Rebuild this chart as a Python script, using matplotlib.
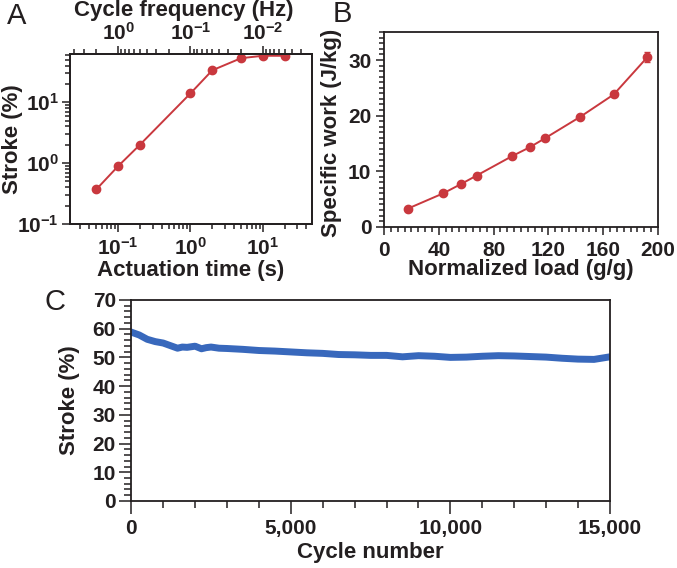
import matplotlib
matplotlib.use("Agg")
import matplotlib.pyplot as plt
from matplotlib.ticker import MultipleLocator, FuncFormatter, NullFormatter, FixedLocator

plt.rcParams['font.family'] = ['Liberation Sans']
plt.rcParams['font.weight'] = 'bold'
plt.rcParams['mathtext.fontset'] = 'custom'
plt.rcParams['mathtext.rm'] = 'Liberation Sans:bold'
plt.rcParams['mathtext.bf'] = 'Liberation Sans:bold'
plt.rcParams['mathtext.default'] = 'rm'

# Panel A: stroke vs actuation time (log-log)
act_time = [0.05, 0.1, 0.2, 1, 2, 5, 10, 20]
stroke_a = [0.37, 0.89, 2.0, 14, 33.5, 53, 58, 58]
freq_ticks = [1, 0.1, 0.01]
freq_labels = [r'$10^{0}$', r'$10^{-1}$', r'$10^{-2}$']

# Panel B: specific work vs normalized load
norm_load = [17.3, 43.2, 56.4, 67.6, 93.5, 106.4, 117.4, 143.4, 167.7, 192.2]
spec_work = [3.24, 6.0, 7.7, 9.2, 12.7, 14.3, 15.9, 19.8, 23.8, 30.5]
spec_err = [0, 0, 0, 0, 0, 0, 0, 0, 0, 0.9]

# Panel C: stroke over cycles
cycles = [0, 250, 500, 750, 1000, 1250, 1450, 1600, 1750, 2000, 2200, 2350, 2500,
          2750, 3000, 3500, 4000, 4500, 5000, 5500, 6000, 6500, 7000, 7500, 8000,
          8500, 9000, 9500, 10000, 10500, 11000, 11500, 12000, 12500, 13000,
          13500, 14000, 14500, 15000]
stroke_c = [58.8, 57.8, 56.3, 55.5, 55.0, 54.0, 53.2, 53.6, 53.5, 53.9, 53.0, 53.4, 53.6,
            53.2, 53.1, 52.8, 52.4, 52.2, 51.9, 51.6, 51.4, 51.0, 50.9, 50.7, 50.7,
            50.2, 50.6, 50.4, 50.0, 50.1, 50.4, 50.6, 50.5, 50.3, 50.1,
            49.7, 49.4, 49.3, 50.2]

red = '#C9383E'
blue = '#3868BC'
ink = '#231F20'
TICK = 15
LAB = 16


def style_axes(ax, lw=1.3):
    for s in ax.spines.values():
        s.set_linewidth(lw)
        s.set_color(ink)
    ax.tick_params(which='both', direction='out', colors=ink, width=1.1,
                   labelsize=TICK)
    ax.tick_params(which='major', length=6)
    ax.tick_params(which='minor', length=3.5)


def place_xlabel(ax, text, y):
    ax.set_xlabel(text, fontsize=LAB, fontweight='bold', color=ink)
    ax.xaxis.set_label_coords(0.5, y)
    ax.xaxis.label.set_va('center')


def place_ylabel(ax, text, x):
    ax.set_ylabel(text, fontsize=LAB, fontweight='bold', color=ink)
    ax.yaxis.set_label_coords(x, 0.5)
    ax.yaxis.label.set_va('center')


fig = plt.figure(figsize=(6.77, 5.68), dpi=100)

# ---- A
axA = fig.add_axes([0.1034, 0.6056, 0.3575, 0.2993])
axA.plot(act_time, stroke_a, color=red, lw=1.4, marker='o', ms=6)
axA.set_xscale('log')
axA.set_yscale('log')
axA.set_xlim(0.0217, 47.7)
axA.set_ylim(0.1, 62)
axA.set_xticks([0.1, 1, 10], [r'$10^{-1}$', r'$10^{0}$', r'$10^{1}$'])
axA.set_yticks([0.1, 1, 10], [r'$10^{-1}$', r'$10^{0}$', r'$10^{1}$'])
axA.xaxis.set_minor_formatter(NullFormatter())
axA.yaxis.set_minor_formatter(NullFormatter())
style_axes(axA)
axA.tick_params(axis='x', pad=3)
axA.tick_params(axis='y', pad=2)
place_xlabel(axA, 'Actuation time (s)', -0.272)
place_ylabel(axA, 'Stroke (%)', -0.236)

# top axis: cycle frequency = 0.1 / actuation time
topA = axA.twiny()
topA.set_xscale('log')
topA.set_xlim(axA.get_xlim())
topA.set_xticks([0.1 / f for f in freq_ticks], freq_labels)
minor_f = [k * 10.0 ** e for e in (-3, -2, -1, 0) for k in range(2, 10)]
topA.xaxis.set_minor_locator(FixedLocator([0.1 / f for f in minor_f]))
topA.xaxis.set_minor_formatter(NullFormatter())
style_axes(topA)
topA.tick_params(axis='x', pad=1)
topA.set_xlabel('Cycle frequency (Hz)', fontsize=LAB, fontweight='bold', color=ink)
topA.xaxis.set_label_coords(0.47, 1.255)
topA.xaxis.label.set_va('center')

# ---- B
axB = fig.add_axes([0.5672, 0.6009, 0.4047, 0.3423])
axB.errorbar(norm_load, spec_work, yerr=spec_err, color=red, lw=1.4, marker='o',
             ms=6, capsize=2, elinewidth=1.2)
axB.set_xlim(0, 200)
axB.set_ylim(0, 35)
axB.xaxis.set_major_locator(MultipleLocator(40))
axB.xaxis.set_minor_locator(MultipleLocator(5))
axB.yaxis.set_major_locator(MultipleLocator(10))
axB.yaxis.set_minor_locator(MultipleLocator(1))
style_axes(axB)
axB.tick_params(axis='x', pad=4)
axB.tick_params(axis='y', pad=3)
place_xlabel(axB, 'Normalized load (g/g)', -0.222)
place_ylabel(axB, 'Specific work (J/kg)', -0.193)
axB.yaxis.set_label_coords(-0.193, 0.48)

# ---- C
axC = fig.add_axes([0.1939, 0.118, 0.7071, 0.3539])
axC.plot(cycles, stroke_c, color=blue, lw=5.0, solid_joinstyle='round')
axC.set_xlim(0, 15000)
axC.set_ylim(0, 70)
axC.xaxis.set_major_locator(MultipleLocator(5000))
axC.xaxis.set_minor_locator(MultipleLocator(1000))
axC.xaxis.set_major_formatter(FuncFormatter(lambda v, p: f'{int(v):,}'))
axC.yaxis.set_major_locator(MultipleLocator(10))
axC.yaxis.set_minor_locator(MultipleLocator(2))
style_axes(axC)
axC.tick_params(which='major', length=9)
axC.tick_params(which='minor', length=5)
axC.tick_params(axis='x', pad=4)
axC.tick_params(axis='y', pad=2)
place_xlabel(axC, 'Cycle number', -0.255)
place_ylabel(axC, 'Stroke (%)', -0.130)

fig.text(0.010, 0.972, 'A', fontsize=21, fontweight='normal', color=ink, va='center')
fig.text(0.492, 0.976, 'B', fontsize=21, fontweight='normal', color=ink, va='center')
fig.text(0.065, 0.469, 'C', fontsize=21, fontweight='normal', color=ink, va='center')

fig.savefig('out.png', dpi=100)
